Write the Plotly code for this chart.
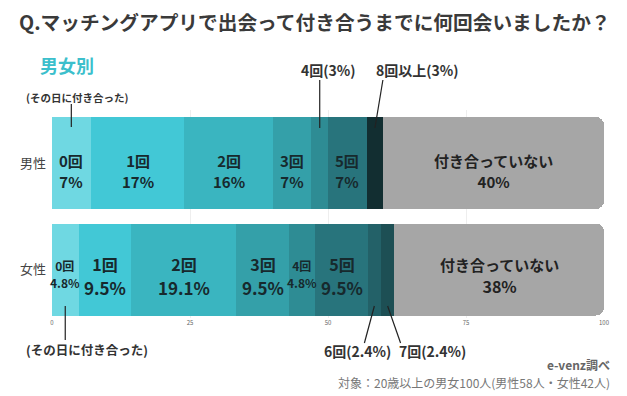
import plotly.graph_objects as go

# ---------------- data ----------------
genders = ["男性", "女性"]
categories = ["0回", "1回", "2回", "3回", "4回", "5回", "6回", "7回", "8回以上", "付き合っていない"]
male = [7, 17, 16, 7, 3, 7, 0, 0, 3, 40]
female = [4.8, 9.5, 19.1, 9.5, 4.8, 9.5, 2.4, 2.4, 0, 38]
x_ticks = [0, 25, 50, 75, 100]

title_text = "Q.マッチングアプリで出会って付き合うまでに何回会いましたか？"
subtitle_text = "男女別"
same_day_note = "(その日に付き合った)"
source_text = "e-venz調べ"
target_text = "対象：20歳以上の男女100人(男性58人・女性42人)"

# ---------------- style ----------------
colors = ["#6fd8e2", "#42c8d6", "#3ab5c0", "#34a0a9", "#2e8c94", "#28747c",
          "#236168", "#1d4f54", "#122e31", "#a6a6a6"]
FONT = "Noto Sans CJK JP"
TXT_DARK = "#17292d"

OFF = 8                 # page body margin of the html page
W, H = 627 - OFF, 396 - OFF
L, R = 50, 604          # plot area x pixels (reference coordinates)
T, B = 110, 318         # plot area y pixels (reference coordinates)


def px_x(p):
    return (p - L) / (R - L)


def px_y(p):
    return (B - p) / (B - T)


def dx(p):
    return p / (R - L)


fig = go.Figure()
for i, cat in enumerate(categories):
    fig.add_trace(go.Bar(
        y=genders, x=[male[i], female[i]], orientation="h", name=cat,
        marker=dict(color=colors[i], line=dict(width=0)),
        hoverinfo="x+name", showlegend=False,
    ))

annotations = []
shapes = []

xmin, xmax = x_ticks[0], x_ticks[-1]


def data_to_paper(xv):
    return (xv - xmin) / (xmax - xmin)


def ann(x, y, text, size, color="#333333", xanchor="center", **kw):
    d = dict(x=x, y=y, xref="paper", yref="paper", text=text, showarrow=False,
             xanchor=xanchor, yanchor="middle",
             font=dict(size=size, color=color, family=FONT))
    d.update(kw)
    return d


series = {"男性": male, "女性": female}
last = len(categories) - 1
for g in genders:
    vals = series[g]
    cum = 0
    for i, cat in enumerate(categories):
        v = vals[i]
        if v <= 0:
            continue
        center = cum + v / 2
        cum += v
        if v < 4:
            continue  # labelled outside the bar
        small = v < 6
        if g == "男性":
            s1, s2, gap, shift = 15, 15, 21, -7.5
        elif small:
            s1, s2, gap, shift = 12, 12, 16.5, -4.5
        else:
            s1, s2, gap, shift = 16, 17, 23.5, -6.5
        col = TXT_DARK
        if i == last:
            col = "#222222"
            s1 = 15
            s2 = 15 if g == "男性" else 16
            if g != "男性":
                gap = 22
        text = (f"<b><span style='font-size:{s1}px'>{cat}</span></b><br>"
                f"<b><span style='font-size:{s2}px'>{v:g}%</span></b>")
        annotations.append(dict(x=center, y=g, xref="x", yref="y", text=text,
                                showarrow=False, yshift=shift, xanchor="center",
                                yanchor="middle",
                                font=dict(size=gap / 1.3, color=col, family=FONT)))


def seg_center(vals, idx):
    return sum(vals[:idx]) + vals[idx] / 2


line_style = dict(color="#222222", width=1.2)

# male external labels (above)
m4 = data_to_paper(seg_center(male, 4))
m8 = data_to_paper(seg_center(male, 8))
shapes.append(dict(type="line", xref="paper", yref="paper", x0=m4, x1=m4,
                   y0=px_y(128), y1=px_y(80), line=line_style))
shapes.append(dict(type="line", xref="paper", yref="paper", x0=m8, x1=m8 + dx(8),
                   y0=px_y(128), y1=px_y(80), line=line_style))
annotations.append(ann(px_x(327), px_y(70), f"<b>{categories[4]}({male[4]:g}%)</b>", 14))
annotations.append(ann(px_x(417), px_y(70), f"<b>{categories[8]}({male[8]:g}%)</b>", 14))

# female external labels (below)
f6 = data_to_paper(seg_center(female, 6))
f7 = data_to_paper(seg_center(female, 7))
shapes.append(dict(type="line", xref="paper", yref="paper", x0=f6, x1=f6 - dx(10),
                   y0=px_y(306), y1=px_y(343), line=line_style))
shapes.append(dict(type="line", xref="paper", yref="paper", x0=f7, x1=f7 + dx(13),
                   y0=px_y(306), y1=px_y(343), line=line_style))
annotations.append(ann(px_x(357), px_y(351), f"<b>{categories[6]}({female[6]:g}%)</b>", 14))
annotations.append(ann(px_x(432), px_y(351), f"<b>{categories[7]}({female[7]:g}%)</b>", 14))

# same-day notes
m0 = data_to_paper(seg_center(male, 0))
f0 = data_to_paper(seg_center(female, 0))
shapes.append(dict(type="line", xref="paper", yref="paper", x0=m0, x1=m0,
                   y0=px_y(104), y1=px_y(127), line=line_style))
shapes.append(dict(type="line", xref="paper", yref="paper", x0=f0, x1=f0,
                   y0=px_y(306), y1=px_y(340), line=line_style))
annotations.append(ann(px_x(22), px_y(97), f"<b>{same_day_note}</b>", 10.5, xanchor="left"))
annotations.append(ann(px_x(22), px_y(349), f"<b>{same_day_note}</b>", 12.5, xanchor="left"))

# title / subtitle / source
annotations.append(ann(px_x(16), px_y(21), f"<b>{title_text}</b>", 19.7, color="#3a3a3a",
                       xanchor="left", borderpad=0))
annotations.append(ann(px_x(36), px_y(65), f"<b>{subtitle_text}</b>", 18, color="#3cbfcc",
                       xanchor="left"))
annotations.append(ann(px_x(612), px_y(364), f"<b>{source_text}</b>", 12, color="#666666",
                       xanchor="right"))
annotations.append(ann(px_x(612), px_y(382), target_text, 12, color="#777777",
                       xanchor="right"))

fig.update_layout(
    width=W, height=H,
    margin=dict(l=L - OFF, r=W - (R - OFF), t=T - OFF, b=H - (B - OFF), pad=0),
    barmode="stack", bargap=0.136, barcornerradius=8,
    plot_bgcolor="white", paper_bgcolor="white",
    font=dict(family=FONT),
    annotations=annotations, shapes=shapes,
    xaxis=dict(range=[xmin, xmax], tickvals=x_ticks, ticktext=[str(t) for t in x_ticks],
               showgrid=True, gridcolor="#eeeeee", gridwidth=1, zeroline=False,
               showline=False, ticks="", tickfont=dict(size=6, color="#666666"),
               fixedrange=True),
    yaxis=dict(type="category", categoryorder="array", categoryarray=["女性", "男性"],
               range=[-0.455, 1.498], showgrid=False, zeroline=False, ticks="",
               ticklabelstandoff=5,
               tickfont=dict(size=13, color="#444444", family=FONT), fixedrange=True),
)

fig.write_html("out.html")
